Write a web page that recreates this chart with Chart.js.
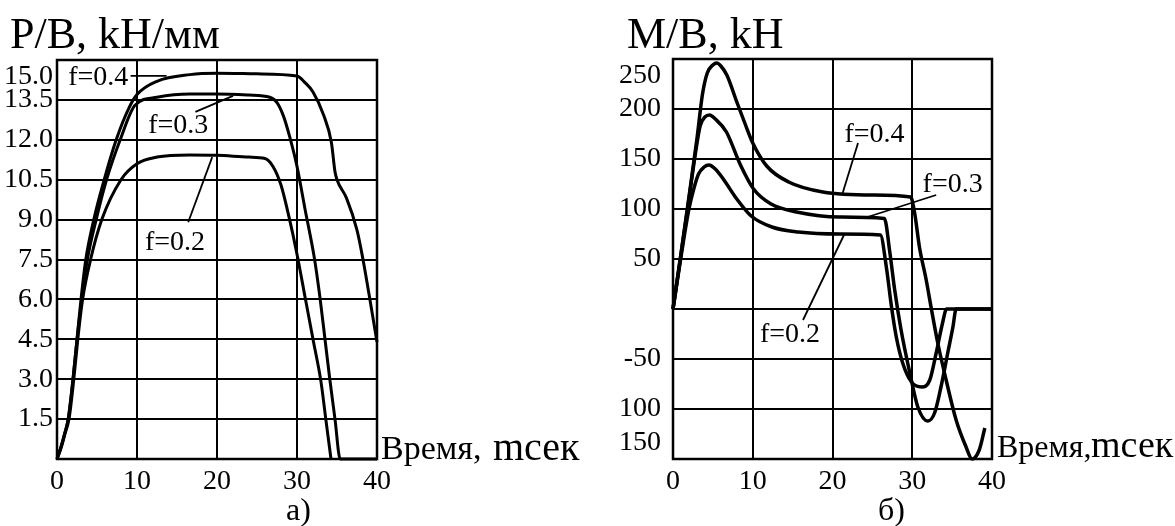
<!DOCTYPE html>
<html>
<head>
<meta charset="utf-8">
<script src="https://cdn.jsdelivr.net/npm/chart.js@4.4.1/dist/chart.umd.min.js"></script>
<style>
  body { margin: 0; background: #fff; width: 1175px; height: 526px; overflow: hidden; position: relative;
         font-family: 'Liberation Serif', 'Times New Roman', serif; color: #000; }
  canvas { position: absolute; top: 0; }
  .txt { position: absolute; line-height: 1; white-space: nowrap; }
</style>
</head>
<body>
<canvas id="chartP" width="590" height="526" style="left:0"></canvas>
<canvas id="chartM" width="585" height="526" style="left:590px"></canvas>

<div class="txt" style="left:10px; top:12px; font-size:44px">P/B, kH/мм</div>
<div class="txt" style="left:627px; top:12px; font-size:44px">M/B, kH</div>
<div class="txt" style="left:381px; top:431px; font-size:34px">Время,</div>
<div class="txt" style="left:493px; top:427px; font-size:40px">mсек</div>
<div class="txt" style="left:997px; top:430px; font-size:32px">Время,</div>
<div class="txt" style="left:1091px; top:425px; font-size:38px">mсек</div>
<div class="txt" style="left:286px; top:493px; font-size:32px">а)</div>
<div class="txt" style="left:878px; top:493px; font-size:32px">б)</div>

<script>
// ---- данные: время, мсек ----
const xTicks = [0, 10, 20, 30, 40];

// P/B, kH/мм
const tP02 = [0, 0.5, 1, 1.5, 2.1, 2.6, 3.2, 4.2, 5.6, 8.0, 10, 12.5, 16.6, 20, 24, 26, 27, 28, 29, 30, 31, 32, 33, 33.6, 34.25];
const pP02 = [0, 0.4, 0.95, 1.5, 3.0, 4.5, 6.0, 7.5, 9.0, 10.5, 11.1, 11.35, 11.43, 11.42, 11.35, 11.3, 11.0, 10.3, 9.1, 7.7, 6.1, 4.5, 2.9, 1.5, 0];
const tP03 = [0, 0.5, 1, 1.4, 2, 2.5, 3.1, 3.8, 4.9, 6.2, 7.9, 9.75, 12.5, 16.6, 20, 24, 26.6, 27.5, 28.3, 29.1, 30, 31, 32.2, 32.9, 33.5, 34.1, 34.75, 35.4, 40];
const pP03 = [0, 0.45, 1.0, 1.5, 3.0, 4.5, 6.0, 7.5, 9.0, 10.5, 12.0, 13.3, 13.6, 13.72, 13.72, 13.68, 13.6, 13.4, 12.9, 12.1, 11.0, 9.4, 7.5, 6.0, 4.5, 3.0, 1.5, 0, 0];
const tP04 = [0, 0.5, 1, 1.4, 2, 2.5, 3.0, 3.6, 4.6, 5.9, 7.4, 9.0, 10, 12.5, 16.6, 20, 25, 30, 31, 32, 33.3, 34.3, 34.75, 35.0, 36.2, 37.5, 38.25, 39, 40];
const pP04 = [0, 0.45, 1.0, 1.5, 3.0, 4.5, 6.0, 7.5, 9.0, 10.5, 12.0, 13.2, 13.7, 14.2, 14.45, 14.5, 14.48, 14.4, 14.15, 13.8, 12.95, 11.9, 10.8, 10.5, 9.8, 8.6, 7.5, 6.2, 4.4];
const yTicksP = [0, 1.5, 3.0, 4.5, 6.0, 7.5, 9.0, 10.5, 12.0, 13.5, 15.0];
const yLabelsP = ['', '1.5', '3.0', '4.5', '6.0', '7.5', '9.0', '10.5', '12.0', '13.5', ['', '15.0']];

// M/B, kH
const tM02 = [0, 1, 2, 2.6, 3.2, 3.9, 4.5, 5.3, 6.3, 8.0, 9.8, 12.4, 15.7, 20.9, 26.0, 26.75, 27.4, 28.0, 28.8, 29.9, 31.2, 32.2, 33.0, 33.8, 34.3, 40];
const mM02 = [0, 52, 100, 120, 135, 142, 144, 140, 130, 110, 93, 82, 77, 75, 74, 42, 2, -28, -54, -73, -78, -71, -44, -14, 0, 0];
const tM03 = [0, 1, 2, 2.8, 3.4, 4.0, 4.6, 5.3, 6.7, 8.4, 10.1, 12.3, 15.5, 20.9, 26.5, 27.2, 27.8, 28.6, 29.7, 30.7, 31.95, 32.8, 33.6, 34.45, 35.1, 35.5, 40];
const mM03 = [0, 55, 110, 155, 183, 192, 194, 190, 177, 145, 120, 105, 97, 92, 90.5, 56, 19, -21, -64, -98, -112, -104, -78, -44, -18, 0, 0];
const tM04 = [0, 1, 2, 3.0, 3.7, 4.3, 5.0, 5.5, 6.0, 6.75, 8.0, 9.0, 10.0, 11.75, 14.5, 18.8, 25, 29.8, 30.3, 30.9, 31.75, 32.4, 33.2, 34.25, 35.5, 36.75, 37.5, 38.4, 39.1];
const mM04 = [0, 55, 112, 170, 215, 236, 244, 246, 243, 234, 207, 186, 166, 143, 127, 117, 114, 112, 96, 62, 29, 0, -34, -71, -111, -138, -150, -141, -119];
const yTicksM = [-150, -100, -50, 0, 50, 100, 150, 200, 250];
const yLabelsM = [['150', ''], '100', '-50', '', '50', '100', '150', '200', ['', '250']];

const seriesNames = ['f=0.2', 'f=0.3', 'f=0.4'];

Chart.defaults.font.family = "'Liberation Serif', 'Times New Roman', serif";
Chart.defaults.font.size = 28;
Chart.defaults.color = '#000';

function points(ts, vs) {
    return ts.map((t, i) => ({ x: t, y: vs[i] }));
}

// рамка + подписи f=... с выносками
const framePlugin = {
    id: 'frame',
    afterDatasetsDraw(chart, args, opts) {
        const { ctx, chartArea: a, scales: { x, y } } = chart;
        ctx.save();
        ctx.strokeStyle = '#000';
        ctx.lineWidth = 2.5;
        ctx.strokeRect(a.left, a.top, a.right - a.left, a.bottom - a.top);
        ctx.lineWidth = 1.8;
        ctx.fillStyle = '#000';
        ctx.font = "28px 'Liberation Serif', serif";
        ctx.textBaseline = 'alphabetic';
        (opts.notes || []).forEach(n => {
            ctx.fillText(n.text, x.getPixelForValue(n.at[0]), y.getPixelForValue(n.at[1]));
            ctx.beginPath();
            ctx.moveTo(x.getPixelForValue(n.from[0]), y.getPixelForValue(n.from[1]));
            ctx.lineTo(x.getPixelForValue(n.to[0]), y.getPixelForValue(n.to[1]));
            ctx.stroke();
        });
        ctx.restore();
    }
};

function makeChart(id, series, yTicks, yLabels, yWidth, yPad, padding, lineW, notes) {
    const ctx = document.getElementById(id).getContext('2d');
    return new Chart(ctx, {
        type: 'line',
        data: {
            datasets: series.map((s, i) => ({
                label: seriesNames[i],
                data: points(s[0], s[1]),
                borderColor: '#000',
                borderWidth: lineW,
                pointRadius: 0,
                fill: false,
                cubicInterpolationMode: 'monotone',
                clip: false
            }))
        },
        options: {
            responsive: false,
            animation: false,
            layout: { padding: padding },
            plugins: {
                legend: { display: false },
                tooltip: { enabled: false },
                frame: { notes: notes }
            },
            scales: {
                x: {
                    type: 'linear',
                    min: xTicks[0],
                    max: xTicks[xTicks.length - 1],
                    afterBuildTicks: sc => { sc.ticks = xTicks.map(v => ({ value: v })); },
                    afterFit: sc => { sc.height = 30; },
                    grid: { color: '#000', lineWidth: 2, drawTicks: false },
                    border: { display: false },
                    ticks: { padding: 6, maxRotation: 0, autoSkip: false, callback: v => String(v) }
                },
                y: {
                    type: 'linear',
                    min: yTicks[0],
                    max: yTicks[yTicks.length - 1],
                    afterBuildTicks: sc => { sc.ticks = yTicks.map(v => ({ value: v })); },
                    afterFit: sc => { sc.width = yWidth; },
                    grid: { color: '#000', lineWidth: 2, drawTicks: false },
                    border: { display: false },
                    ticks: { padding: yPad, autoSkip: false, callback: (v, i) => yLabels[i] }
                }
            }
        },
        plugins: [framePlugin]
    });
}

makeChart('chartP',
    [[tP02, pP02], [tP03, pP03], [tP04, pP04]],
    yTicksP, yLabelsP, 57, 4,
    { left: 0, top: 60, right: 213, bottom: 37 }, 3,
    [
        { text: 'f=0.4', at: [1.4, 14.05], from: [9.2, 14.4], to: [13.7, 14.4] },
        { text: 'f=0.3', at: [11.4, 12.25], from: [17.3, 13.05], to: [22, 13.65] },
        { text: 'f=0.2', at: [11.0, 7.85], from: [16.4, 8.9], to: [19.4, 11.35] }
    ]);

makeChart('chartM',
    [[tM02, mM02], [tM03, mM03], [tM04, mM04]],
    yTicksM, yLabelsM, 83, 12,
    { left: 0, top: 59, right: 183, bottom: 37 }, 3.5,
    [
        { text: 'f=0.4', at: [21.5, 167], from: [23.2, 166], to: [21.2, 114] },
        { text: 'f=0.3', at: [31.3, 117], from: [33.0, 114], to: [24.4, 92] },
        { text: 'f=0.2', at: [10.9, -33], from: [16.3, -11], to: [21.5, 75] }
    ]);
</script>
</body>
</html>
